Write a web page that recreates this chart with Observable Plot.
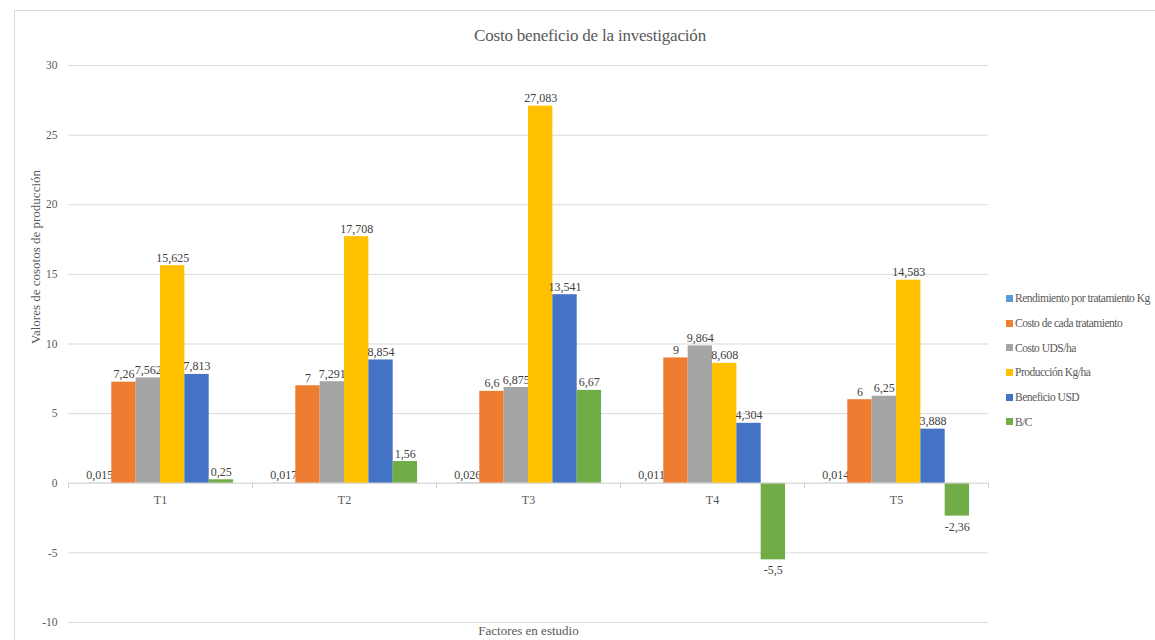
<!DOCTYPE html>
<html>
<head>
<meta charset="utf-8">
<script src="https://cdn.jsdelivr.net/npm/d3@7"></script>
<script src="https://cdn.jsdelivr.net/npm/@observablehq/plot@0.6"></script>
<style>
  html, body { margin: 0; padding: 0; background: #fff; }
  #wrap { position: relative; width: 1155px; height: 640px; overflow: hidden; font-family: "Liberation Serif", "Times New Roman", serif; color: #595959; }
  #frame { position: absolute; left: 14px; top: 10px; width: 1300px; height: 800px; border: 1px solid #d9d9d9; box-sizing: border-box; }
  #title { position: absolute; left: 0; width: 1180px; top: 26px; text-align: center; font-size: 17px; letter-spacing: -0.2px; }
  #chart { position: absolute; left: 0; top: 50px; }
  #legend { position: absolute; left: 1006px; top: 286px; font-size: 11.5px; letter-spacing: -0.5px; white-space: nowrap; }
  #legend .item { height: 24.7px; display: flex; align-items: center; }
  #legend .sw { width: 7px; height: 7px; margin-right: 2px; display: inline-block; }
</style>
</head>
<body>
<div id="wrap">
  <div id="frame"></div>
  <div id="title">Costo beneficio de la investigación</div>
  <div id="chart"></div>
  <div id="legend"></div>
</div>
<script>
const categories = ["T1", "T2", "T3", "T4", "T5"];
const seriesNames = ["Rendimiento por tratamiento Kg", "Costo de cada tratamiento", "Costo UDS/ha", "Producción Kg/ha", "Beneficio USD", "B/C"];
const seriesColors = ["#5B9BD5", "#ED7D31", "#A5A5A5", "#FFC000", "#4472C4", "#70AD47"];
const rendimiento = [0.015, 0.017, 0.026, 0.011, 0.014];
const costoTratamiento = [7.26, 7, 6.6, 9, 6];
const costoUDS = [7.562, 7.291, 6.875, 9.864, 6.25];
const produccion = [15.625, 17.708, 27.083, 8.608, 14.583];
const beneficio = [7.813, 8.854, 13.541, 4.304, 3.888];
const bc = [0.25, 1.56, 6.67, -5.5, -2.36];
const yTicks = [-10, -5, 0, 5, 10, 15, 20, 25, 30];

const seriesValues = [rendimiento, costoTratamiento, costoUDS, produccion, beneficio, bc];

const W = 1000, H = 590;
const mL = 68, mR = 12, mT = 15, mB = 18;
const step = (W - mL - mR) / categories.length;
const pad = step * 0.103;
const bw = (step - 2 * pad) / seriesNames.length;
const fmt = v => String(v).replace(".", ",");
const font = "Liberation Serif, Times New Roman, serif";

const marks = [
  Plot.ruleY(yTicks.filter(t => t !== 0), {stroke: "#d9d9d9", strokeWidth: 1})
];

seriesNames.forEach((name, i) => {
  const rows = categories.map((c, k) => ({cat: c, value: seriesValues[i][k]}));
  const left = pad + i * bw;
  const right = step - pad - (i + 1) * bw;
  marks.push(Plot.barY(rows, {x: "cat", y: "value", fill: seriesColors[i], insetLeft: left, insetRight: right}));
  const cx = -step / 2 + pad + (i + 0.5) * bw;
  marks.push(Plot.text(rows.filter(d => d.value >= 0), {x: "cat", y: "value", text: d => fmt(d.value), dx: cx, dy: -4, lineAnchor: "bottom", fill: "#404040", fontSize: 12, fontFamily: font}));
  marks.push(Plot.text(rows.filter(d => d.value < 0), {x: "cat", y: "value", text: d => fmt(d.value), dx: cx, dy: 6, lineAnchor: "top", fill: "#404040", fontSize: 12, fontFamily: font}));
});

marks.push(Plot.ruleY([0], {stroke: "#cfcfcf", strokeWidth: 1.2}));
marks.push(Plot.ruleX(categories.map(c => ({cat: c, v: 0})), {x: "cat", y1: "v", y2: "v", dx: -step / 2, insetBottom: -5, stroke: "#cfcfcf"}));
marks.push(Plot.ruleX([{cat: categories[categories.length - 1], v: 0}], {x: "cat", y1: "v", y2: "v", dx: step / 2, insetBottom: -5, stroke: "#cfcfcf"}));
marks.push(Plot.text(categories.map(c => ({cat: c, v: 0})), {x: "cat", y: "v", text: "cat", dy: 17, fill: "#595959", fontSize: 12, fontFamily: font}));
marks.push(Plot.axisY({ticks: yTicks, tickFormat: d => String(d), tickSize: 0, tickPadding: 11, label: null, fontSize: 11.5, fontFamily: font, color: "#595959"}));
marks.push(Plot.text(["Valores de cosotos de producción"], {frameAnchor: "left", rotate: -90, dx: -33, fill: "#595959", fontSize: 13, fontFamily: font}));
marks.push(Plot.text(["Factores en estudio"], {frameAnchor: "bottom", dy: 12, fill: "#595959", fontSize: 13, fontFamily: font}));

const chart = Plot.plot({
  width: W,
  height: H,
  marginLeft: mL,
  marginRight: mR,
  marginTop: mT,
  marginBottom: mB,
  style: {fontFamily: font, color: "#595959", background: "transparent", overflow: "visible"},
  x: {type: "band", domain: categories, padding: 0, axis: null},
  y: {domain: [-10, 30], axis: null},
  marks
});
document.getElementById("chart").appendChild(chart);

const legend = document.getElementById("legend");
seriesNames.forEach((n, i) => {
  const it = document.createElement("div");
  it.className = "item";
  const sw = document.createElement("span");
  sw.className = "sw";
  sw.style.background = seriesColors[i];
  it.appendChild(sw);
  it.appendChild(document.createTextNode(n));
  legend.appendChild(it);
});
</script>
</body>
</html>
